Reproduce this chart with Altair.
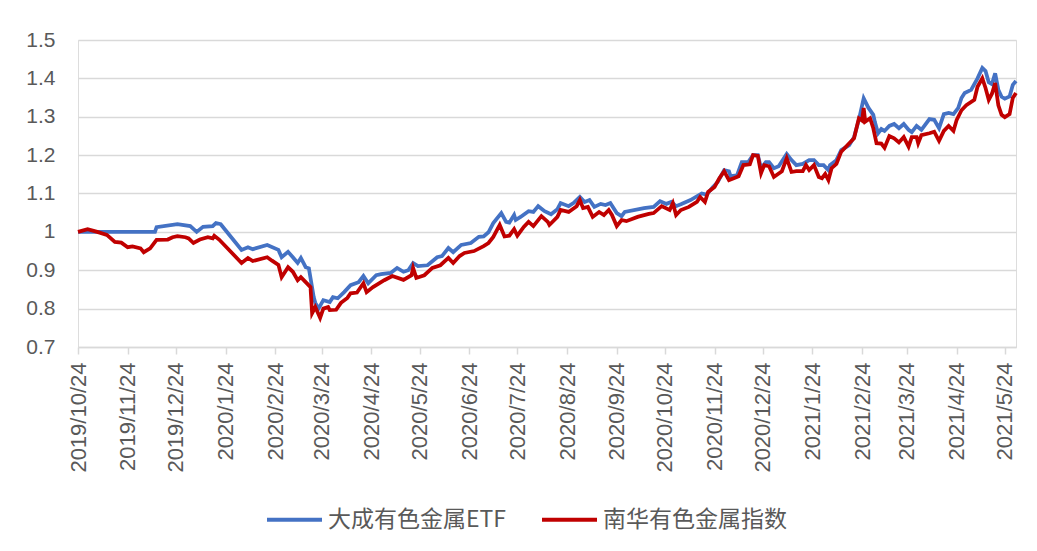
import altair as alt
import pandas as pd

series_names = ["大成有色金属ETF", "南华有色金属指数"]
series_colors = ["#4472C4", "#C00000"]

etf_dates = ["2019-10-24","2019-12-11","2019-12-12","2019-12-25","2020-01-02","2020-01-06","2020-01-10","2020-01-16","2020-01-18","2020-01-21","2020-02-03","2020-02-07","2020-02-10","2020-02-19","2020-02-26","2020-02-28","2020-03-03","2020-03-06","2020-03-09","2020-03-11","2020-03-14","2020-03-16","2020-03-19","2020-03-20","2020-03-22","2020-03-25","2020-03-29","2020-03-31","2020-04-03","2020-04-07","2020-04-11","2020-04-16","2020-04-19","2020-04-22","2020-04-27","2020-04-30","2020-05-06","2020-05-10","2020-05-14","2020-05-17","2020-05-20","2020-05-23","2020-05-29","2020-06-04","2020-06-07","2020-06-11","2020-06-14","2020-06-19","2020-06-25","2020-06-30","2020-07-03","2020-07-06","2020-07-09","2020-07-14","2020-07-17","2020-07-19","2020-07-22","2020-07-23","2020-07-26","2020-07-31","2020-08-03","2020-08-06","2020-08-10","2020-08-14","2020-08-18","2020-08-20","2020-08-25","2020-08-28","2020-09-01","2020-09-04","2020-09-07","2020-09-10","2020-09-14","2020-09-17","2020-09-20","2020-09-24","2020-09-27","2020-09-29","2020-10-11","2020-10-17","2020-10-21","2020-10-25","2020-10-28","2020-10-31","2020-11-03","2020-11-09","2020-11-16","2020-11-19","2020-11-23","2020-11-26","2020-11-30","2020-12-03","2020-12-04","2020-12-08","2020-12-11","2020-12-15","2020-12-18","2020-12-21","2020-12-23","2020-12-26","2020-12-28","2020-12-31","2021-01-03","2021-01-08","2021-01-11","2021-01-14","2021-01-18","2021-01-22","2021-01-25","2021-01-28","2021-01-31","2021-02-03","2021-02-04","2021-02-08","2021-02-11","2021-02-16","2021-02-19","2021-02-22","2021-02-25","2021-02-28","2021-03-03","2021-03-04","2021-03-06","2021-03-08","2021-03-10","2021-03-13","2021-03-16","2021-03-19","2021-03-22","2021-03-25","2021-03-27","2021-03-30","2021-04-02","2021-04-07","2021-04-10","2021-04-13","2021-04-16","2021-04-19","2021-04-22","2021-04-25","2021-04-27","2021-04-29","2021-05-03","2021-05-07","2021-05-10","2021-05-12","2021-05-14","2021-05-16","2021-05-18","2021-05-20","2021-05-22","2021-05-24","2021-05-27","2021-05-29","2021-05-31"]
etf_values = [1.0,1.0,1.0125,1.02,1.015,1.0,1.013,1.015,1.023,1.02,0.953,0.96,0.955,0.966,0.953,0.934,0.948,0.934,0.919,0.932,0.908,0.905,0.83,0.815,0.80,0.822,0.817,0.83,0.827,0.843,0.861,0.869,0.885,0.866,0.887,0.89,0.893,0.906,0.896,0.9,0.919,0.911,0.913,0.934,0.937,0.958,0.947,0.966,0.971,0.987,0.988,0.999,1.023,1.049,1.026,1.024,1.044,1.031,1.039,1.054,1.052,1.067,1.054,1.046,1.059,1.075,1.067,1.075,1.091,1.078,1.083,1.065,1.073,1.07,1.075,1.049,1.041,1.052,1.062,1.065,1.08,1.073,1.078,1.067,1.072,1.083,1.1,1.097,1.117,1.13,1.161,1.158,1.145,1.147,1.182,1.182,1.2,1.2,1.166,1.182,1.182,1.166,1.171,1.203,1.187,1.174,1.177,1.187,1.187,1.174,1.174,1.161,1.174,1.187,1.213,1.226,1.247,1.292,1.348,1.323,1.305,1.286,1.257,1.268,1.263,1.276,1.281,1.27,1.281,1.266,1.26,1.276,1.266,1.294,1.292,1.27,1.307,1.31,1.307,1.323,1.349,1.362,1.37,1.4,1.427,1.419,1.39,1.385,1.413,1.37,1.352,1.347,1.353,1.383,1.393]

index_dates = ["2019-10-24","2019-10-30","2019-11-05","2019-11-11","2019-11-16","2019-11-20","2019-11-24","2019-11-27","2019-12-02","2019-12-04","2019-12-08","2019-12-12","2019-12-19","2019-12-22","2019-12-25","2019-12-30","2020-01-01","2020-01-04","2020-01-08","2020-01-13","2020-01-16","2020-01-17","2020-01-20","2020-02-03","2020-02-07","2020-02-10","2020-02-19","2020-02-22","2020-02-26","2020-02-28","2020-03-03","2020-03-06","2020-03-09","2020-03-11","2020-03-14","2020-03-17","2020-03-18","2020-03-20","2020-03-23","2020-03-25","2020-03-28","2020-03-29","2020-04-02","2020-04-05","2020-04-09","2020-04-11","2020-04-15","2020-04-19","2020-04-21","2020-04-25","2020-05-02","2020-05-07","2020-05-14","2020-05-19","2020-05-20","2020-05-22","2020-05-27","2020-06-01","2020-06-06","2020-06-11","2020-06-14","2020-06-18","2020-06-21","2020-06-27","2020-07-03","2020-07-06","2020-07-09","2020-07-13","2020-07-16","2020-07-19","2020-07-22","2020-07-24","2020-07-28","2020-07-31","2020-08-03","2020-08-08","2020-08-12","2020-08-13","2020-08-18","2020-08-20","2020-08-25","2020-08-30","2020-09-01","2020-09-03","2020-09-06","2020-09-09","2020-09-13","2020-09-16","2020-09-19","2020-09-21","2020-09-24","2020-09-27","2020-09-30","2020-10-07","2020-10-14","2020-10-17","2020-10-22","2020-10-27","2020-10-29","2020-10-31","2020-11-03","2020-11-08","2020-11-13","2020-11-15","2020-11-18","2020-11-20","2020-11-24","2020-11-27","2020-11-30","2020-12-03","2020-12-06","2020-12-09","2020-12-12","2020-12-16","2020-12-18","2020-12-21","2020-12-23","2020-12-25","2020-12-28","2020-12-31","2021-01-05","2021-01-08","2021-01-11","2021-01-14","2021-01-18","2021-01-20","2021-01-22","2021-01-25","2021-01-28","2021-01-30","2021-02-01","2021-02-03","2021-02-05","2021-02-08","2021-02-11","2021-02-16","2021-02-19","2021-02-22","2021-02-24","2021-02-25","2021-02-26","2021-03-01","2021-03-03","2021-03-05","2021-03-08","2021-03-10","2021-03-13","2021-03-16","2021-03-19","2021-03-22","2021-03-25","2021-03-27","2021-03-30","2021-03-31","2021-04-02","2021-04-07","2021-04-10","2021-04-13","2021-04-16","2021-04-19","2021-04-22","2021-04-24","2021-04-27","2021-04-30","2021-05-05","2021-05-07","2021-05-10","2021-05-12","2021-05-14","2021-05-16","2021-05-18","2021-05-20","2021-05-22","2021-05-24","2021-05-27","2021-05-29","2021-05-31"]
index_values = [1.0,1.007,1.0,0.992,0.974,0.972,0.96,0.962,0.957,0.947,0.957,0.979,0.98,0.986,0.989,0.986,0.983,0.971,0.98,0.986,0.983,0.99,0.98,0.919,0.932,0.924,0.934,0.925,0.914,0.882,0.908,0.896,0.874,0.882,0.869,0.856,0.788,0.804,0.776,0.80,0.804,0.796,0.797,0.815,0.828,0.84,0.842,0.866,0.843,0.856,0.874,0.885,0.875,0.887,0.906,0.88,0.887,0.906,0.913,0.932,0.919,0.937,0.945,0.95,0.963,0.971,0.987,1.018,0.988,0.99,1.007,0.99,1.013,1.026,1.015,1.041,1.026,1.018,1.039,1.057,1.052,1.067,1.083,1.062,1.065,1.039,1.052,1.044,1.057,1.044,1.015,1.031,1.028,1.039,1.047,1.049,1.067,1.057,1.075,1.044,1.057,1.065,1.078,1.091,1.078,1.104,1.117,1.14,1.158,1.135,1.14,1.145,1.174,1.176,1.2,1.198,1.153,1.174,1.171,1.143,1.158,1.192,1.156,1.158,1.158,1.174,1.161,1.174,1.143,1.14,1.151,1.135,1.166,1.177,1.209,1.231,1.244,1.296,1.29,1.323,1.287,1.296,1.27,1.231,1.23,1.219,1.25,1.244,1.233,1.247,1.222,1.247,1.247,1.231,1.252,1.257,1.261,1.237,1.263,1.276,1.263,1.292,1.317,1.33,1.344,1.378,1.4,1.375,1.344,1.36,1.388,1.33,1.305,1.299,1.307,1.349,1.362]

tick_dates = ["2019-10-24","2019-11-24","2019-12-24","2020-01-24","2020-02-24","2020-03-24","2020-04-24","2020-05-24","2020-06-24","2020-07-24","2020-08-24","2020-09-24","2020-10-24","2020-11-24","2020-12-24","2021-01-24","2021-02-24","2021-03-24","2021-04-24","2021-05-24"]
y_ticks = [0.7, 0.8, 0.9, 1.0, 1.1, 1.2, 1.3, 1.4, 1.5]
x_domain = ["2019-10-24", "2021-05-31"]

df = pd.concat([
    pd.DataFrame({"date": etf_dates, "value": etf_values, "series": series_names[0]}),
    pd.DataFrame({"date": index_dates, "value": index_values, "series": series_names[1]}),
], ignore_index=True)

axis_font = "Liberation Sans"
label_color = "#595959"
grid_color = "#D9D9D9"

chart = alt.Chart(df).mark_line(strokeWidth=3.75, interpolate="linear").encode(
    x=alt.X(
        "date:T",
        scale=alt.Scale(type="utc", domain=x_domain, nice=False),
        axis=alt.Axis(
            values=tick_dates,
            labelExpr="utcFormat(datum.value, '%Y/%-m/%-d')",
            labelAngle=270,
            labelFont=axis_font,
            labelFontSize=22,
            labelColor=label_color,
            labelPadding=8,
            labelOverlap=False,
            labelBound=False,
            labelFlush=False,
            tickColor=grid_color,
            tickSize=7,
            tickWidth=1.5,
            domainColor=grid_color,
            domainWidth=1.5,
            grid=False,
            title=None,
        ),
    ),
    y=alt.Y(
        "value:Q",
        scale=alt.Scale(domain=[0.7, 1.5], nice=False, zero=False),
        axis=alt.Axis(
            values=y_ticks,
            labelExpr="format(datum.value, '.1~f')",
            labelFont=axis_font,
            labelFontSize=21,
            labelColor=label_color,
            labelPadding=23,
            ticks=False,
            tickSize=0,
            domain=False,
            grid=True,
            gridColor=grid_color,
            gridWidth=1.5,
            title=None,
        ),
    ),
    color=alt.Color(
        "series:N",
        scale=alt.Scale(domain=series_names, range=series_colors),
        legend=alt.Legend(
            title=None,
            orient="none",
            direction="horizontal",
            legendX=187,
            legendY=450,
            symbolType="stroke",
            symbolSize=3025,
            symbolStrokeWidth=4,
            labelFont="Noto Sans CJK SC",
            labelFontSize=23,
            labelColor=label_color,
            labelOffset=4,
            labelLimit=400,
            columnPadding=27,
            padding=0,
        ),
    ),
    order=alt.Order("date:T"),
).properties(
    width=938,
    height=307,
    autosize=alt.AutoSizeParams(type="none"),
    padding={"left": 70, "top": 32, "right": 13, "bottom": 200},
).configure_view(
    stroke=None
).configure(
    background="white"
)

chart.save("out.html", embed_options={"renderer": "svg", "actions": False})
